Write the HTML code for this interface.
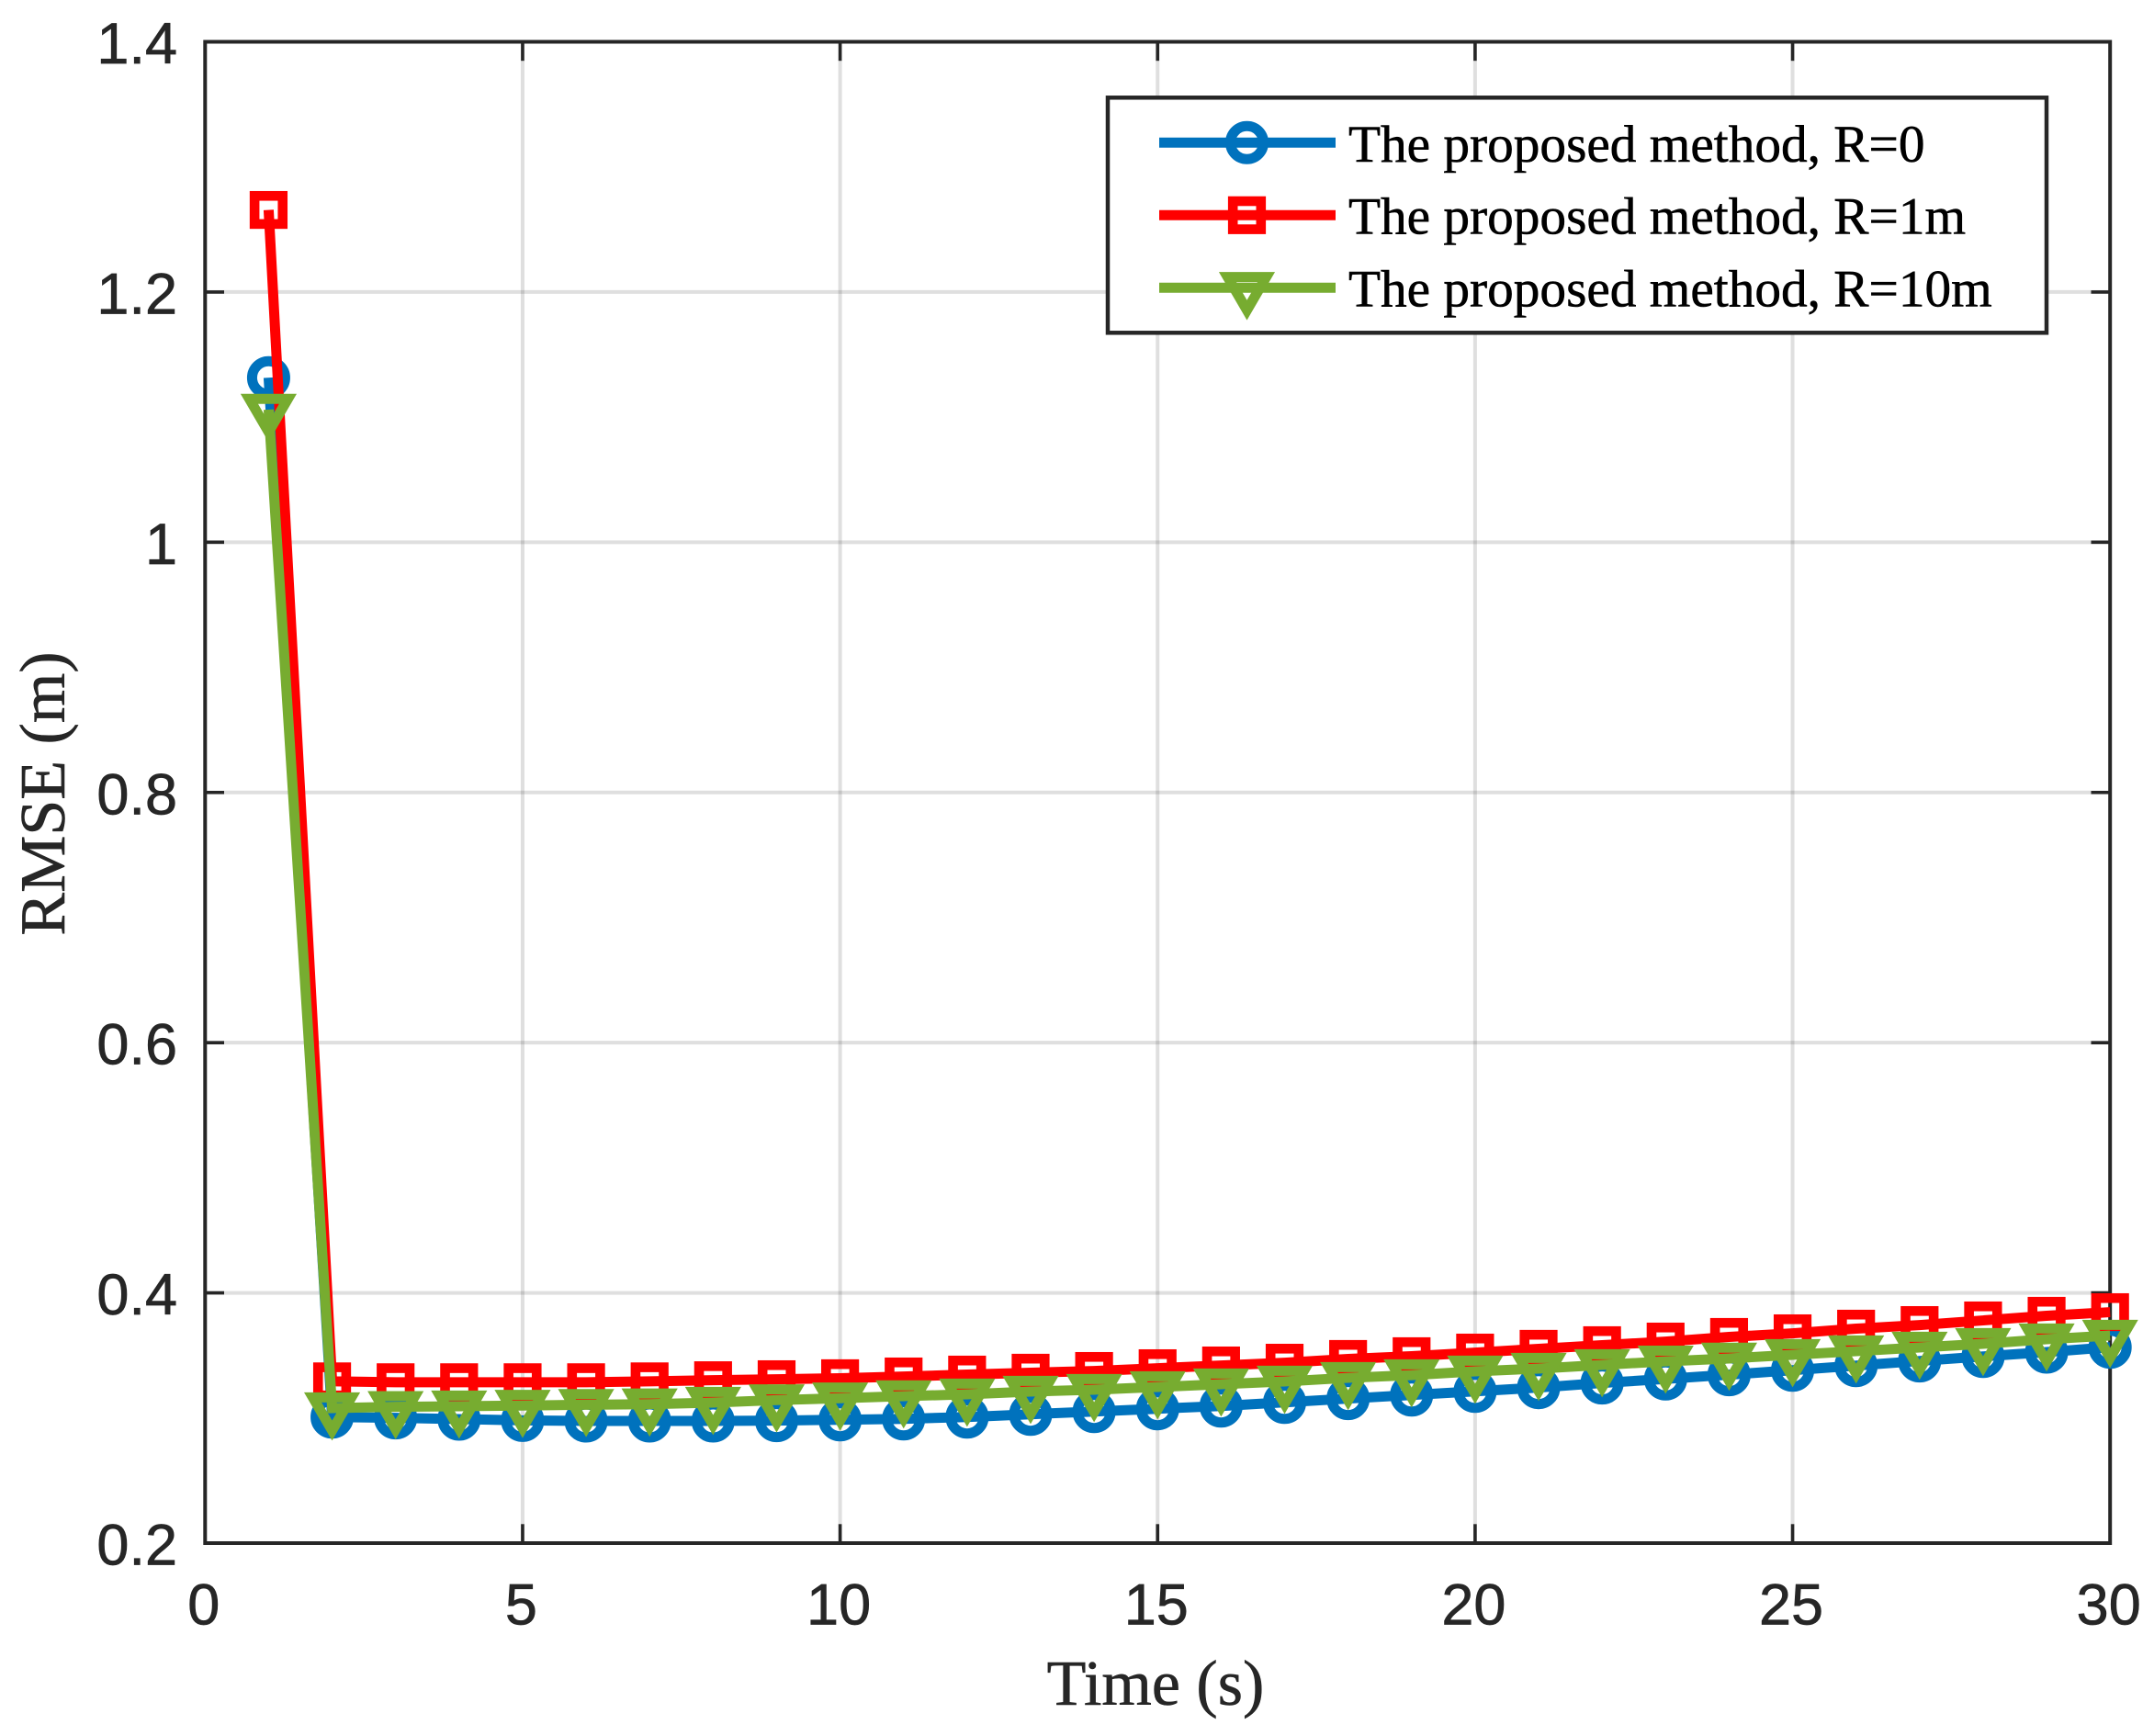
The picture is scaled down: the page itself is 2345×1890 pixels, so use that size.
<!DOCTYPE html>
<html lang="en">
<head>
<meta charset="utf-8">
<title>RMSE over time</title>
<style>
  html, body { margin: 0; padding: 0; background: #ffffff; }
  svg { display: block; }
  .tick-label { font-family: "Liberation Sans", sans-serif; font-size: 63px; fill: #262626; stroke: #262626; stroke-width: 0.7px; }
  .axis-title { font-family: "Liberation Serif", serif; font-size: 70px; fill: #262626; stroke: #262626; stroke-width: 0.6px; }
  .legend-label { font-family: "Liberation Serif", serif; font-size: 57.3px; fill: #000000; stroke: #000000; stroke-width: 0.6px; }
</style>
</head>
<body>
<svg id="chart" xmlns="http://www.w3.org/2000/svg" width="2345" height="1890" viewBox="0 0 2345 1890">
  <rect x="0" y="0" width="2345" height="1890" fill="#ffffff"/>
  <g id="grid"></g>
  <g id="axes"></g>
  <g id="tick-labels"></g>
  <g id="series"></g>
  <text class="axis-title" x="1258" y="1856" text-anchor="middle">Time (s)</text>
  <text class="axis-title" transform="translate(70 864) rotate(-90)" text-anchor="middle">RMSE (m)</text>
  <g id="legend">
    <rect x="1206" y="106.3" width="1022" height="256" fill="#ffffff" stroke="#262626" stroke-width="4.5"/>
    <g>
      <line x1="1262" x2="1454" y1="155.3" y2="155.3" stroke="#0072bd" stroke-width="11"/>
      <circle cx="1357.5" cy="155.3" r="18" fill="none" stroke="#0072bd" stroke-width="11"/>
      <text class="legend-label" x="1468" y="176">The proposed method, R=0</text>
    </g>
    <g>
      <line x1="1262" x2="1454" y1="234.3" y2="234.3" stroke="#ff0000" stroke-width="11"/>
      <rect x="1342.2" y="219" width="30.6" height="30.6" fill="none" stroke="#ff0000" stroke-width="10.6"/>
      <text class="legend-label" x="1468" y="254.5">The proposed method, R=1m</text>
    </g>
    <g>
      <line x1="1262" x2="1454" y1="313.3" y2="313.3" stroke="#77ac30" stroke-width="11"/>
      <polygon points="1336.5,301.6 1378.5,301.6 1357.5,337.7" fill="none" stroke="#77ac30" stroke-width="11" stroke-miterlimit="10"/>
      <text class="legend-label" x="1468" y="333.3">The proposed method, R=10m</text>
    </g>
  </g>
</svg>
<script>
// Chart data
const times = [1,2,3,4,5,6,7,8,9,10,11,12,13,14,15,16,17,18,19,20,21,22,23,24,25,26,27,28,29,30];
const rmseR0 = [1.1315,.3008,.3001,.2991,.2981,.2976,.2976,.2976,.2979,.2986,.2993,.3008,.3030,.3052,.3074,.3096,.3125,.3155,.3184,.3213,.3243,.3280,.3312,.3346,.3382,.3419,.3456,.3492,.3527,.3566];
const rmseR1 = [1.2656,.3293,.3286,.3286,.3286,.3286,.3293,.3302,.3310,.3318,.3332,.3347,.3362,.3376,.3398,.3420,.3442,.3472,.3494,.3523,.3553,.3582,.3611,.3648,.3677,.3714,.3743,.3780,.3817,.3846];
const rmseR10 = [1.1060,.3079,.3089,.3094,.3099,.3106,.3110,.3123,.3143,.3158,.3175,.3189,.3211,.3226,.3248,.3270,.3292,.3321,.3343,.3373,.3395,.3424,.3453,.3476,.3505,.3534,.3564,.3593,.3630,.3659];
const xTicks = [0,5,10,15,20,25,30];
const yTicks = [0.2,0.4,0.6,0.8,1,1.2,1.4];
const yTickLabels = ["0.2","0.4","0.6","0.8","1","1.2","1.4"];

const SVG_NS = "http://www.w3.org/2000/svg";
const plot = { left: 223.3, right: 2297.2, top: 45.5, bottom: 1680 };
const xMin = 0, xMax = 30, yMin = 0.2, yMax = 1.4;

function xScale(v) { return plot.left + (v - xMin) / (xMax - xMin) * (plot.right - plot.left); }
function yScale(v) { return plot.bottom - (v - yMin) / (yMax - yMin) * (plot.bottom - plot.top); }

function make(tag, attrs, parent) {
  const el = document.createElementNS(SVG_NS, tag);
  for (const k in attrs) el.setAttribute(k, attrs[k]);
  parent.appendChild(el);
  return el;
}

const gridG = document.getElementById('grid');
const axesG = document.getElementById('axes');
const labelsG = document.getElementById('tick-labels');
const seriesG = document.getElementById('series');
const INK = "#262626";
const TICK = 20.7;

// Grid
xTicks.forEach(function (t) {
  if (t === xMin || t === xMax) return;
  const ln = make('line', { x1: xScale(t), x2: xScale(t), y1: plot.top, y2: plot.bottom, stroke: INK, 'stroke-opacity': 0.15, 'stroke-width': 4 }, gridG);
  
  
});
yTicks.forEach(function (t) {
  if (t === yMin || t === yMax) return;
  const ln = make('line', { x1: plot.left, x2: plot.right, y1: yScale(t), y2: yScale(t), stroke: INK, 'stroke-opacity': 0.15, 'stroke-width': 4 }, gridG);
  
  
});

// Axes box
const box = make('rect', { x: plot.left, y: plot.top, width: plot.right - plot.left, height: plot.bottom - plot.top, fill: 'none', stroke: INK, 'stroke-width': 4 }, axesG);



// Ticks and labels
xTicks.forEach(function (t) {
  const x = xScale(t);
  if (t !== xMin && t !== xMax) {
    const b = make('line', { x1: x, x2: x, y1: plot.bottom, y2: plot.bottom - TICK, stroke: INK, 'stroke-width': 3.6 }, axesG);
    
    
    const a = make('line', { x1: x, x2: x, y1: plot.top, y2: plot.top + TICK, stroke: INK, 'stroke-width': 3.6 }, axesG);
    
    
  }
  const lbl = make('text', { class: 'tick-label', x: x - 1.5, y: 1768.5, 'text-anchor': 'middle' }, labelsG);
  
  
  lbl.textContent = String(t);
});
yTicks.forEach(function (t, i) {
  const y = yScale(t);
  if (t !== yMin && t !== yMax) {
    const l = make('line', { x1: plot.left, x2: plot.left + TICK, y1: y, y2: y, stroke: INK, 'stroke-width': 3.6 }, axesG);
    
    
    const r = make('line', { x1: plot.right, x2: plot.right - TICK, y1: y, y2: y, stroke: INK, 'stroke-width': 3.6 }, axesG);
    
    
  }
  const lbl = make('text', { class: 'tick-label', x: 193, y: y + 23.5, 'text-anchor': 'end' }, labelsG);
  
  
  lbl.textContent = yTickLabels[i];
});

// Series
function drawSeries(values, color, kind, seriesName) {
  const g = make('g', {}, seriesG);
  
  
  const pts = times.map(function (t, i) { return xScale(t) + ',' + yScale(values[i]); }).join(' ');
  const line = make('polyline', { points: pts, fill: 'none', stroke: color, 'stroke-width': 11, 'stroke-linejoin': 'miter', 'stroke-miterlimit': 10 }, g);
  
  
  times.forEach(function (t, i) {
    const cx = xScale(t), cy = yScale(values[i]);
    let m;
    if (kind === 'circle') {
      m = make('circle', { cx: cx, cy: cy, r: 18, fill: 'none', stroke: color, 'stroke-width': 11 }, g);
    } else if (kind === 'square') {
      m = make('rect', { x: cx - 15.3, y: cy - 15.3, width: 30.6, height: 30.6, fill: 'none', stroke: color, 'stroke-width': 10.6 }, g);
    } else {
      m = make('polygon', { points: (cx - 21) + ',' + (cy - 11.65) + ' ' + (cx + 21) + ',' + (cy - 11.65) + ' ' + cx + ',' + (cy + 24.4), fill: 'none', stroke: color, 'stroke-width': 11, 'stroke-miterlimit': 10 }, g);
    }
    
    
  });
}
drawSeries(rmseR0, '#0072bd', 'circle', 'series-r0');
drawSeries(rmseR1, '#ff0000', 'square', 'series-r1');
drawSeries(rmseR10, '#77ac30', 'triangle', 'series-r10');
</script>
</body>
</html>
